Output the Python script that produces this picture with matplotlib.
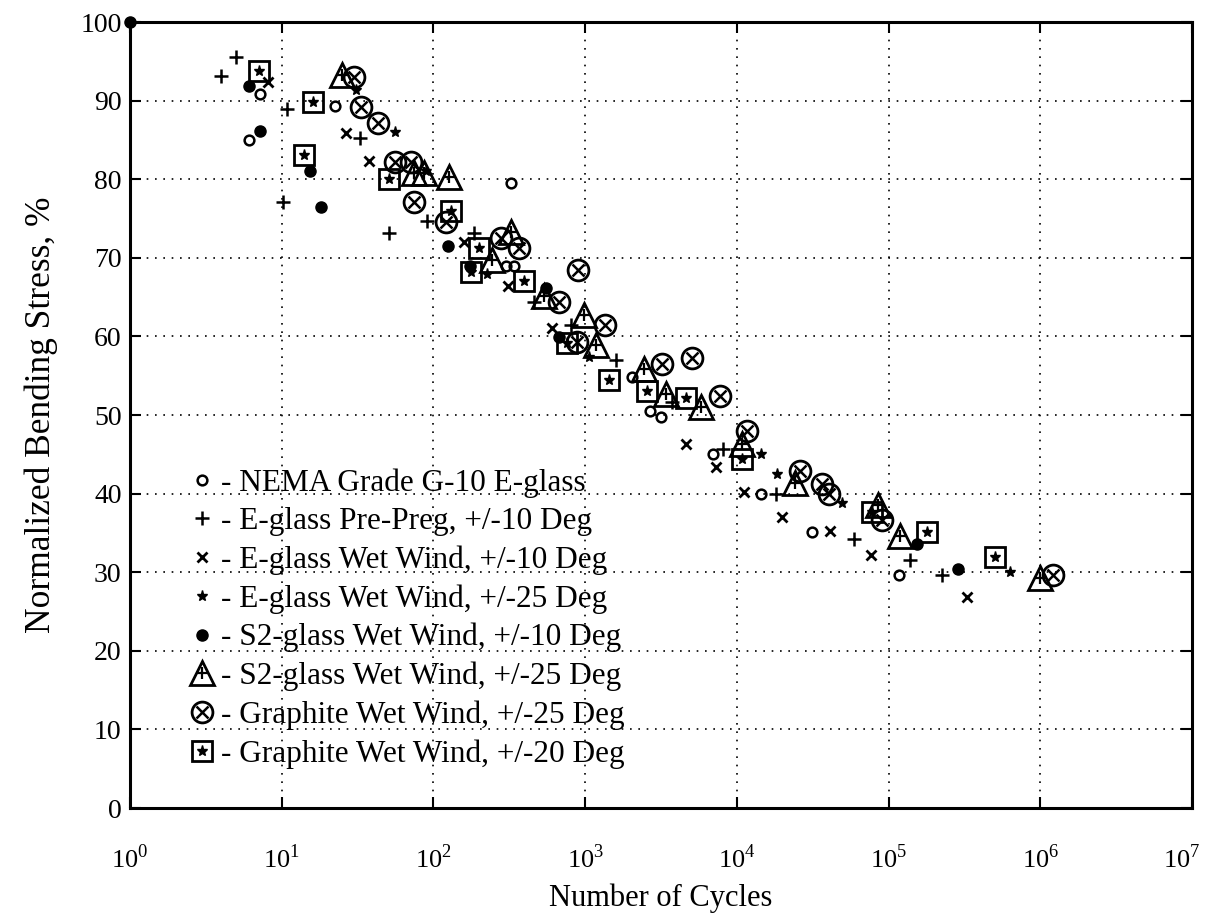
import matplotlib
matplotlib.use('Agg')
import matplotlib.pyplot as plt
import matplotlib.transforms as mtransforms
from matplotlib.legend_handler import HandlerTuple
from matplotlib.ticker import FixedLocator, NullLocator

plt.rcParams['font.family'] = 'Liberation Serif'
plt.rcParams['mathtext.fontset'] = 'custom'
plt.rcParams['mathtext.rm'] = 'Liberation Serif'

# fatigue data: cycles to failure vs normalized bending stress (%)
nema_n = [7.2, 6.1, 22.3, 324, 301, 341, 2037, 2666, 3150, 6950, 14320, 31140, 116300]
nema_s = [90.8, 85.0, 89.3, 79.5, 69.0, 68.9, 54.8, 50.5, 49.7, 45.1, 40.0, 35.1, 29.6]

prepreg_n = [5.0, 4.0, 10.9, 10.2, 32.6, 50.6, 91.3, 186, 462, 806, 1592, 3718,
             8090, 17980, 58880, 138900, 224200]
prepreg_s = [95.5, 93.1, 88.9, 77.1, 85.3, 73.2, 74.7, 73.1, 64.4, 61.4, 57.0, 51.6,
             45.7, 40.0, 34.2, 31.5, 29.6]

ew10_n = [8.1, 26.6, 37.4, 160, 311, 606, 4600, 7244, 11120, 19770, 41300, 76970, 327700]
ew10_s = [92.4, 85.9, 82.3, 72.0, 66.4, 61.1, 46.3, 43.4, 40.2, 37.0, 35.3, 32.2, 26.8]

ew25_n = [30.7, 56.2, 89.5, 226, 1062, 14320, 18330, 49100, 632100]
ew25_s = [91.4, 86.0, 81.1, 68.0, 57.4, 45.0, 42.5, 38.8, 30.0]

s2_10_n = [1.0, 6.1, 7.2, 15.3, 18.2, 124, 173, 551, 675, 152800, 288900]
s2_10_s = [100, 91.8, 86.1, 81.1, 76.5, 71.5, 69.0, 66.1, 59.9, 33.6, 30.4]

s2_25_n = [25.1, 75, 87.3, 127, 244, 324, 537, 985, 1175, 2445, 3397, 5770,
           10790, 24330, 84700, 119400, 995000]
s2_25_s = [93.2, 80.8, 80.8, 80.3, 69.7, 73.3, 65.2, 62.7, 58.9, 55.9, 52.7, 51.0,
           46.3, 41.4, 38.5, 34.6, 29.3]

g25_n = [29.8, 33.1, 42.8, 55.4, 71.3, 73.9, 121, 279, 368, 675, 899, 886, 1355,
         3213, 5036, 7690, 11640, 26240, 36220, 40270, 89950, 1220000]
g25_s = [93.0, 89.2, 87.1, 82.2, 82.2, 77.1, 74.6, 72.5, 71.2, 64.4, 68.4, 59.3, 61.4,
         56.5, 57.2, 52.4, 48.0, 42.9, 41.2, 40.0, 36.6, 29.6]

g20_n = [7.1, 16.0, 14.0, 50.6, 131, 177, 201, 397, 762, 1439, 2558, 4600,
         10790, 77300, 177900, 503600]
g20_s = [93.8, 89.8, 83.1, 80.0, 76.0, 68.2, 71.2, 67.1, 59.1, 54.4, 53.1, 52.1,
         44.4, 37.6, 35.1, 31.9]

labels = ['- NEMA Grade G-10 E-glass',
          '- E-glass Pre-Preg, +/-10 Deg',
          '- E-glass Wet Wind, +/-10 Deg',
          '- E-glass Wet Wind, +/-25 Deg',
          '- S2-glass Wet Wind, +/-10 Deg',
          '- S2-glass Wet Wind, +/-25 Deg',
          '- Graphite Wet Wind, +/-25 Deg',
          '- Graphite Wet Wind, +/-20 Deg']

fig = plt.figure(figsize=(12.06, 9.13), dpi=100)
ax = fig.add_axes([130/1206, 1-808/913, (1192-130)/1206, (808-22)/913])

k = dict(linestyle='none', color='k', mec='k', clip_on=False)
h1, = ax.plot(nema_n, nema_s, marker='o', ms=7, mfc='none', mew=1.8, **k)
h2, = ax.plot(prepreg_n, prepreg_s, marker='+', ms=10, mew=1.8, **k)
h3, = ax.plot(ew10_n, ew10_s, marker='x', ms=7, mew=2.0, **k)
h4, = ax.plot(ew25_n, ew25_s, marker='*', ms=8, mew=1.0, **k)
h5, = ax.plot(s2_10_n, s2_10_s, marker='o', ms=8, mfc='k', **k)
h6a, = ax.plot(s2_25_n, s2_25_s, marker='^', ms=17, mfc='none', mew=2.0, **k)
h6b, = ax.plot(s2_25_n, s2_25_s, marker='+', ms=9, mew=1.6, **k)
h7a, = ax.plot(g25_n, g25_s, marker='o', ms=15, mfc='none', mew=2.0, **k)
h7b, = ax.plot(g25_n, g25_s, marker='x', ms=8, mew=1.8, **k)
h8a, = ax.plot(g20_n, g20_s, marker='s', ms=14, mfc='none', mew=2.0, **k)
h8b, = ax.plot(g20_n, g20_s, marker='*', ms=8, mew=1.0, **k)

ax.set_xscale('log')
ax.set_xlim(1, 1e7)
ax.set_ylim(0, 100)
ax.xaxis.set_major_locator(FixedLocator([10**i for i in range(8)]))
ax.xaxis.set_minor_locator(NullLocator())
ax.set_xticklabels(['10$^{%d}$' % i for i in range(8)])
ax.set_yticks(range(0, 101, 10))

ax.grid(True, which='major', color='k', linestyle=(0, (1, 4)), linewidth=1.2)
ax.tick_params(direction='in', length=8, width=1.5, top=True, right=True,
               labelsize=20, pad=6)
ax.tick_params(axis='x', labelsize=19, pad=26)
for s in ax.spines.values():
    s.set_linewidth(2.2)

# keep the last decade label inside the figure
last = ax.get_xticklabels()[-1]
last.set_transform(last.get_transform() +
                   mtransforms.ScaledTranslation(-10/100, 0, fig.dpi_scale_trans))

ax.set_xlabel('Number of Cycles', fontsize=22, labelpad=8)
ax.set_ylabel('Normalized Bending Stress, %', fontsize=25.5, labelpad=16)

leg = ax.legend([h1, h2, h3, h4, h5, (h6a, h6b), (h7a, h7b), (h8a, h8b)], labels,
                handler_map={tuple: HandlerTuple(ndivide=1)},
                loc='upper left', bbox_to_anchor=(188/1206, 1-468/913),
                bbox_transform=fig.transFigure, frameon=False, fontsize=22.5,
                handlelength=0.9, handletextpad=0.15, labelspacing=0.3,
                borderpad=0, borderaxespad=0)

fig.savefig('out.png', dpi=100)
